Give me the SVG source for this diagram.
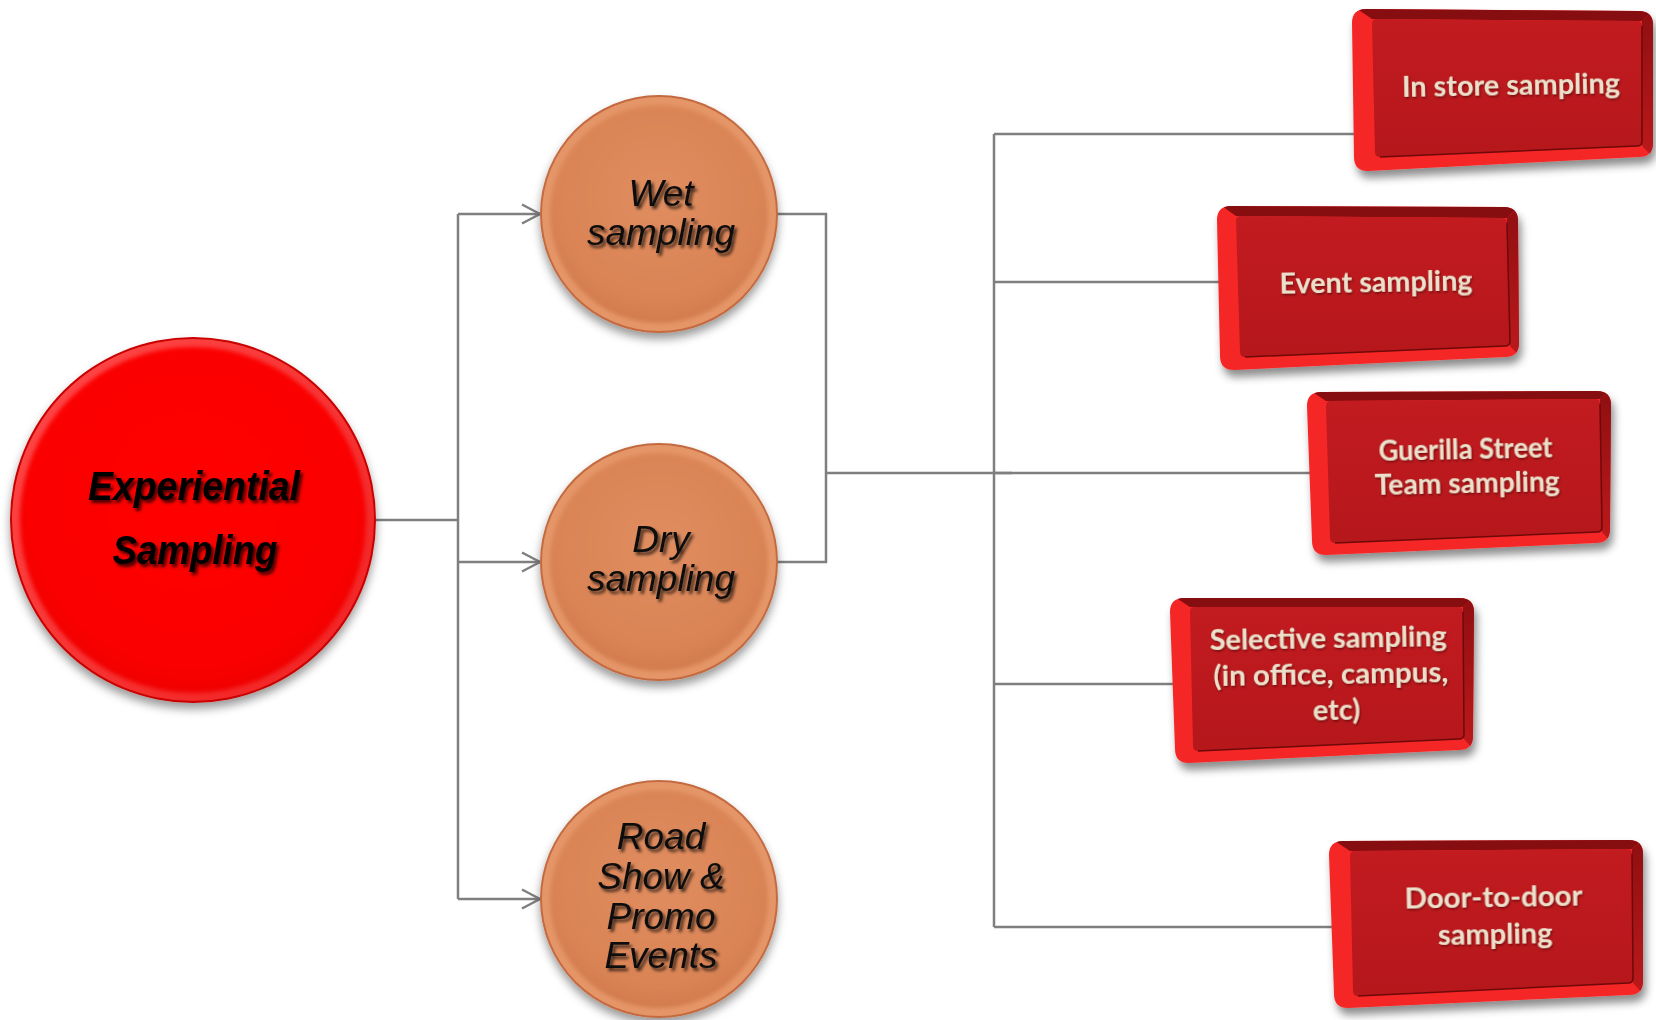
<svg xmlns="http://www.w3.org/2000/svg" width="1656" height="1020" viewBox="0 0 1656 1020">
  <defs>
    <style>
      .wire { fill: none; stroke: #7f7f7f; stroke-width: 2.5; }
      .arrow { marker-end: url(#chevron); }
      .hub-text { font-family: "Liberation Sans", Arial, sans-serif; font-weight: bold; font-style: italic; font-size: 40px; fill: #000; text-anchor: middle; }
      .ball-text { font-family: "Liberation Sans", Arial, sans-serif; font-style: italic; font-size: 37px; fill: #111; text-anchor: middle; }
      .key-text { font-family: Lato, "Open Sans", sans-serif; font-weight: bold; font-size: 29px; fill: #ebe0cb; text-anchor: middle; }
      .key-face { fill: url(#faceGrad); }
      .key-rim { fill: #f52828; }
      .key-top { fill: #860d10; }
      .key-right { fill: url(#rightGrad); }
      .key-edge { fill: none; stroke: #6e0909; stroke-width: 1.5; }
    </style>
    <marker id="chevron" viewBox="0 0 22 22" refX="20" refY="11" markerWidth="22" markerHeight="22" markerUnits="userSpaceOnUse" orient="auto">
      <path d="M2,1.5 L20,11 L2,20.5" fill="none" stroke="#7f7f7f" stroke-width="2.5"/>
    </marker>
    <filter id="dropShadow" x="-20%" y="-20%" width="140%" height="150%">
      <feDropShadow dx="0" dy="6" stdDeviation="5" flood-color="#000" flood-opacity="0.4"/>
    </filter>
    <filter id="keyShadow" x="-10%" y="-20%" width="130%" height="150%">
      <feDropShadow dx="3" dy="7" stdDeviation="4" flood-color="#000" flood-opacity="0.45"/>
    </filter>
    <filter id="textShadow" x="-10%" y="-30%" width="130%" height="170%">
      <feDropShadow dx="2.5" dy="3" stdDeviation="1.6" flood-color="#000" flood-opacity="0.7"/>
    </filter>
    <filter id="softText" x="-10%" y="-30%" width="130%" height="170%">
      <feDropShadow dx="1" dy="1.5" stdDeviation="1" flood-color="#3a0000" flood-opacity="0.6"/>
    </filter>
    <filter id="soften" x="-10%" y="-10%" width="120%" height="120%">
      <feGaussianBlur stdDeviation="2"/>
    </filter>
    <radialGradient id="redFace" cx="50%" cy="45%" r="55%">
      <stop offset="0" stop-color="#ff0000"/>
      <stop offset="0.85" stop-color="#fb0000"/>
      <stop offset="1" stop-color="#f00000"/>
    </radialGradient>
    <linearGradient id="redRim" x1="0" y1="0" x2="1" y2="1">
      <stop offset="0" stop-color="#ff4a4a"/>
      <stop offset="1" stop-color="#f02020"/>
    </linearGradient>
    <radialGradient id="copperFace" cx="50%" cy="42%" r="58%">
      <stop offset="0" stop-color="#e08d5f"/>
      <stop offset="0.8" stop-color="#da8456"/>
      <stop offset="1" stop-color="#d27b4e"/>
    </radialGradient>
    <linearGradient id="faceGrad" x1="0" y1="0" x2="0" y2="1">
      <stop offset="0" stop-color="#c21b20"/>
      <stop offset="1" stop-color="#b5171b"/>
    </linearGradient>
    <linearGradient id="rightGrad" x1="0" y1="0" x2="0" y2="1">
      <stop offset="0" stop-color="#8c0e10"/>
      <stop offset="1" stop-color="#c01a1c"/>
    </linearGradient>
  </defs>

  <rect width="1656" height="1020" fill="#ffffff"/>

  <!-- connectors -->
  <g id="connectors">
    <path class="wire" d="M376,520 H458"/>
    <path class="wire" d="M458,214 V899"/>
    <path class="wire arrow" d="M458,214 H540"/>
    <path class="wire arrow" d="M458,562 H540"/>
    <path class="wire arrow" d="M458,899 H540"/>
    <path class="wire" d="M778,214 H826 V562 H778"/>
    <path class="wire" d="M826,473 H1012"/>
    <path class="wire" d="M994,134 V927"/>
    <path class="wire" d="M994,134 H1356"/>
    <path class="wire" d="M994,282 H1221"/>
    <path class="wire" d="M994,473 H1311"/>
    <path class="wire" d="M994,684 H1176"/>
    <path class="wire" d="M994,927 H1334"/>
  </g>

  <!-- hub -->
  <g id="experiential-sampling">
    <g filter="url(#dropShadow)">
      <circle cx="193" cy="520" r="183" fill="#c80000"/>
    </g>
    <circle cx="193" cy="520" r="181" fill="url(#redRim)"/>
    <circle cx="193" cy="520" r="173" fill="url(#redFace)" filter="url(#soften)"/>
    <g filter="url(#textShadow)">
      <text class="hub-text" x="194" y="500" textLength="212" lengthAdjust="spacingAndGlyphs">Experiential</text>
      <text class="hub-text" x="195" y="564" textLength="165" lengthAdjust="spacingAndGlyphs">Sampling</text>
    </g>
  </g>

  <!-- sampling types -->
  <g id="wet-sampling">
    <g filter="url(#dropShadow)">
      <circle cx="659" cy="214" r="119" fill="#c46a40"/>
    </g>
    <circle cx="659" cy="214" r="117" fill="#e59668"/>
    <circle cx="659" cy="214" r="109" fill="url(#copperFace)" filter="url(#soften)"/>
    <g filter="url(#textShadow)">
      <text class="ball-text" x="661" y="206">Wet</text>
      <text class="ball-text" x="661" y="245">sampling</text>
    </g>
  </g>

  <g id="dry-sampling">
    <g filter="url(#dropShadow)">
      <circle cx="659" cy="562" r="119" fill="#c46a40"/>
    </g>
    <circle cx="659" cy="562" r="117" fill="#e59668"/>
    <circle cx="659" cy="562" r="109" fill="url(#copperFace)" filter="url(#soften)"/>
    <g filter="url(#textShadow)">
      <text class="ball-text" x="661" y="552">Dry</text>
      <text class="ball-text" x="661" y="591">sampling</text>
    </g>
  </g>

  <g id="road-show">
    <g filter="url(#dropShadow)">
      <circle cx="659" cy="899" r="119" fill="#c46a40"/>
    </g>
    <circle cx="659" cy="899" r="117" fill="#e59668"/>
    <circle cx="659" cy="899" r="109" fill="url(#copperFace)" filter="url(#soften)"/>
    <g filter="url(#textShadow)">
      <text class="ball-text" x="661" y="849">Road</text>
      <text class="ball-text" x="661" y="889">Show &amp;</text>
      <text class="ball-text" x="661" y="929">Promo</text>
      <text class="ball-text" x="661" y="968">Events</text>
    </g>
  </g>

  <!-- sampling channels -->
  <g id="in-store-sampling">
    <clipPath id="clip1"><path d="M1366,9 L1639,11 Q1653,11 1653,25 L1653,143 Q1653,157 1639,157 L1368,171 Q1354,171 1354,157 L1352,23 Q1352,9 1366,9 Z"/></clipPath>
    <path class="key-rim" filter="url(#keyShadow)" d="M1366,9 L1639,11 Q1653,11 1653,25 L1653,143 Q1653,157 1639,157 L1368,171 Q1354,171 1354,157 L1352,23 Q1352,9 1366,9 Z"/>
    <g clip-path="url(#clip1)">
      <polygon class="key-top" points="1340,-3 1665,-1 1642,21 1372,19"/>
      <polygon class="key-right" points="1665,-1 1665,169 1642,146 1642,21"/>
    </g>
    <path class="key-face" d="M1377,19 L1637,21 Q1642,21 1642,26 L1642,141 Q1642,146 1637,146 L1380,157 Q1375,157 1375,152 L1372,24 Q1372,19 1377,19 Z"/>
    <path class="key-edge" d="M1642,26 L1642,141 Q1642,146 1637,146 L1380,157"/>
    <g transform="rotate(-1 1511 85)" filter="url(#softText)">
      <text class="key-text" x="1511" y="95" textLength="218" lengthAdjust="spacingAndGlyphs">In store sampling</text>
    </g>
  </g>

  <g id="event-sampling">
    <clipPath id="clip2"><path d="M1231,206 L1504,207 Q1518,207 1518,221 L1519,343 Q1519,357 1505,357 L1234,370 Q1220,370 1220,356 L1217,220 Q1217,206 1231,206 Z"/></clipPath>
    <path class="key-rim" filter="url(#keyShadow)" d="M1231,206 L1504,207 Q1518,207 1518,221 L1519,343 Q1519,357 1505,357 L1234,370 Q1220,370 1220,356 L1217,220 Q1217,206 1231,206 Z"/>
    <g clip-path="url(#clip2)">
      <polygon class="key-top" points="1205,194 1530,195 1507,218 1236,216"/>
      <polygon class="key-right" points="1530,195 1531,369 1510,346 1507,218"/>
    </g>
    <path class="key-face" d="M1241,216 L1502,218 Q1507,218 1507,223 L1510,341 Q1510,346 1505,346 L1245,357 Q1240,357 1240,352 L1236,221 Q1236,216 1241,216 Z"/>
    <path class="key-edge" d="M1507,223 L1510,341 Q1510,346 1505,346 L1245,357"/>
    <g transform="rotate(-1 1376 282)" filter="url(#softText)">
      <text class="key-text" x="1376" y="292" textLength="193" lengthAdjust="spacingAndGlyphs">Event sampling</text>
    </g>
  </g>

  <g id="guerilla-street-team-sampling">
    <clipPath id="clip3"><path d="M1321,392 L1597,391 Q1611,391 1611,405 L1610,529 Q1610,543 1596,543 L1326,555 Q1312,555 1312,541 L1307,406 Q1307,392 1321,392 Z"/></clipPath>
    <path class="key-rim" filter="url(#keyShadow)" d="M1321,392 L1597,391 Q1611,391 1611,405 L1610,529 Q1610,543 1596,543 L1326,555 Q1312,555 1312,541 L1307,406 Q1307,392 1321,392 Z"/>
    <g clip-path="url(#clip3)">
      <polygon class="key-top" points="1295,380 1623,379 1600,399 1326,401"/>
      <polygon class="key-right" points="1623,379 1622,555 1602,532 1600,399"/>
    </g>
    <path class="key-face" d="M1331,401 L1595,399 Q1600,399 1600,404 L1602,527 Q1602,532 1597,532 L1335,543 Q1330,543 1330,538 L1326,406 Q1326,401 1331,401 Z"/>
    <path class="key-edge" d="M1600,404 L1602,527 Q1602,532 1597,532 L1335,543"/>
    <g transform="rotate(-1.2 1466 473)" filter="url(#softText)">
      <text class="key-text" x="1466" y="459" textLength="174" lengthAdjust="spacingAndGlyphs">Guerilla Street</text>
      <text class="key-text" x="1467" y="493" textLength="185" lengthAdjust="spacingAndGlyphs">Team sampling</text>
    </g>
  </g>

  <g id="selective-sampling">
    <clipPath id="clip4"><path d="M1184,598 L1460,598 Q1474,598 1474,612 L1473,736 Q1473,750 1459,750 L1189,763 Q1175,763 1175,749 L1170,612 Q1170,598 1184,598 Z"/></clipPath>
    <path class="key-rim" filter="url(#keyShadow)" d="M1184,598 L1460,598 Q1474,598 1474,612 L1473,736 Q1473,750 1459,750 L1189,763 Q1175,763 1175,749 L1170,612 Q1170,598 1184,598 Z"/>
    <g clip-path="url(#clip4)">
      <polygon class="key-top" points="1158,586 1486,586 1463,607 1190,607"/>
      <polygon class="key-right" points="1486,586 1485,762 1464,739 1463,607"/>
    </g>
    <path class="key-face" d="M1195,607 L1458,607 Q1463,607 1463,612 L1464,734 Q1464,739 1459,739 L1198,751 Q1193,751 1193,746 L1190,612 Q1190,607 1195,607 Z"/>
    <path class="key-edge" d="M1463,612 L1464,734 Q1464,739 1459,739 L1198,751"/>
    <g transform="rotate(-1 1330 682)" filter="url(#softText)">
      <text class="key-text" x="1329" y="648" textLength="237" lengthAdjust="spacingAndGlyphs">Selective sampling</text>
      <text class="key-text" x="1331" y="684" textLength="235" lengthAdjust="spacingAndGlyphs">(in office, campus,</text>
      <text class="key-text" x="1336" y="720">etc)</text>
    </g>
  </g>

  <g id="door-to-door-sampling">
    <clipPath id="clip5"><path d="M1343,841 L1629,840 Q1643,840 1643,854 L1643,981 Q1643,995 1629,995 L1348,1008 Q1334,1008 1334,994 L1329,855 Q1329,841 1343,841 Z"/></clipPath>
    <path class="key-rim" filter="url(#keyShadow)" d="M1343,841 L1629,840 Q1643,840 1643,854 L1643,981 Q1643,995 1629,995 L1348,1008 Q1334,1008 1334,994 L1329,855 Q1329,841 1343,841 Z"/>
    <g clip-path="url(#clip5)">
      <polygon class="key-top" points="1317,829 1655,828 1632,849 1350,851"/>
      <polygon class="key-right" points="1655,828 1655,1007 1633,983 1632,849"/>
    </g>
    <path class="key-face" d="M1355,851 L1627,849 Q1632,849 1632,854 L1633,978 Q1633,983 1628,983 L1358,996 Q1353,996 1353,991 L1350,856 Q1350,851 1355,851 Z"/>
    <path class="key-edge" d="M1632,854 L1633,978 Q1633,983 1628,983 L1358,996"/>
    <g transform="rotate(-1 1494 924)" filter="url(#softText)">
      <text class="key-text" x="1494" y="907" textLength="178" lengthAdjust="spacingAndGlyphs">Door-to-door</text>
      <text class="key-text" x="1495" y="944">sampling</text>
    </g>
  </g>
</svg>
